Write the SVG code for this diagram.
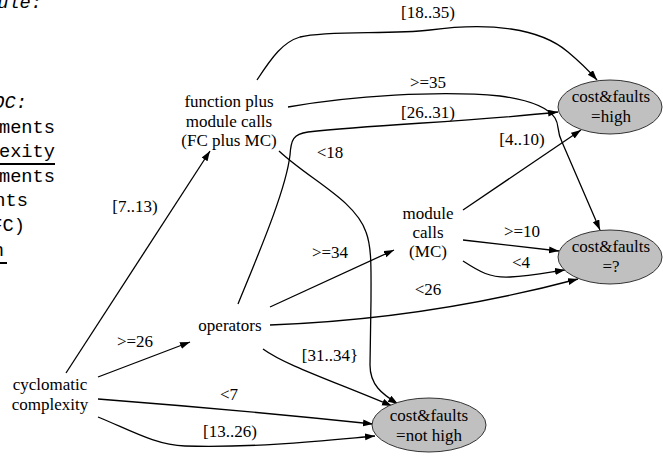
<svg xmlns="http://www.w3.org/2000/svg" width="663" height="456" viewBox="0 0 663 456">
<defs>
<marker id="ah" markerUnits="userSpaceOnUse" markerWidth="11" markerHeight="8" refX="10" refY="3.5" orient="auto">
<path d="M0,0 L10,3.5 L0,7 z" fill="#000"/>
</marker>
<style>
.code{font-family:"Liberation Mono",monospace;font-size:18.7px;fill:#000}
.it{font-style:italic}
.n{font-family:"Liberation Serif",serif;font-size:17px;fill:#000;text-anchor:middle}
.lb{font-family:"Liberation Serif",serif;font-size:17px;fill:#000;text-anchor:middle}
.e{stroke:#000;stroke-width:1.3;fill:none;marker-end:url(#ah)}
.ov{fill:#c0c0c0;stroke:#333;stroke-width:1}
</style>
</defs>
<rect width="663" height="456" fill="#fff"/>
<g id="listing" class="code" text-anchor="end">
<text x="42" y="8" class="it">ule:</text>
<text x="27" y="108" class="it">OC:</text>
<text x="55" y="133">ments</text>
<text x="55" y="157">exity</text>
<line x1="0" y1="164" x2="55" y2="164" stroke="#000" stroke-width="2"/>
<text x="55" y="182">ments</text>
<text x="28" y="206">nts</text>
<text x="25" y="231">FC)</text>
<text x="4" y="256">n</text>
<line x1="0" y1="263" x2="7" y2="263" stroke="#000" stroke-width="2"/>
</g>
<g id="connectors">
<path class="e" d="M66,373 L210,151"/>
<path class="e" d="M98,377 L190,342"/>
<path class="e" d="M98,399 Q240,410 373,424"/>
<path class="e" d="M98,417 C130,430 155,445 185,446 C260,448 330,440 375,436"/>
<path class="e" d="M238,304 C258,255 286,190 290,155 C291,140 293,134 308,132 C380,124 470,122 558,112"/>
<path class="e" d="M257,80 C272,57 283,42 300,37 C330,30 390,35 430,30 C490,22 540,28 568,52 C580,62 590,72 597,80"/>
<path class="e" d="M288,107 C350,96 440,90 500,96 C530,100 548,108 555,118 C560,126 556,130 562,142 L600,230"/>
<path class="e" d="M279,151 C310,180 355,200 366,232 C372,248 371,270 371,300 L370,365 C370,385 382,394 398,404"/>
<path class="e" d="M270,307 L394,250"/>
<path class="e" d="M270,325 C380,321 480,305 578,279"/>
<path class="e" d="M263,349 C285,365 330,380 392,406"/>
<path class="e" d="M463,210 L581,130"/>
<path class="e" d="M463,240 L559,251"/>
<path class="e" d="M463,261 C480,272 490,278 510,277 C530,276 545,273 565,270"/>
<g id="edge-labels" class="lb">
<text x="428" y="18">[18..35)</text>
<text x="428" y="88">&gt;=35</text>
<text x="428" y="118">[26..31)</text>
<text x="330" y="158">&lt;18</text>
<text x="135" y="212">[7..13)</text>
<text x="522" y="145">[4..10)</text>
<text x="330" y="258">&gt;=34</text>
<text x="522" y="237">&gt;=10</text>
<text x="521" y="268">&lt;4</text>
<text x="428" y="295">&lt;26</text>
<text x="135" y="347">&gt;=26</text>
<text x="330" y="361">[31..34}</text>
<text x="229" y="400">&lt;7</text>
<text x="230" y="437">[13..26)</text>
</g>
</g>
<g id="fc_plus_mc" class="n">
<text x="229" y="107">function plus</text>
<text x="229" y="127">module calls</text>
<text x="229" y="146">(FC plus MC)</text>
</g>
<g id="mc" class="n">
<text x="428" y="219">module</text>
<text x="428" y="238">calls</text>
<text x="428" y="257">(MC)</text>
</g>
<g id="operators" class="n">
<text x="230" y="331">operators</text>
</g>
<g id="cyclomatic" class="n">
<text x="50" y="390">cyclomatic</text>
<text x="50" y="410">complexity</text>
</g>
<g id="high">
<ellipse class="ov" cx="610" cy="107" rx="52" ry="27"/>
<text class="n" x="611" y="102">cost&amp;faults</text>
<text class="n" x="611" y="122">=high</text>
</g>
<g id="unknown">
<ellipse class="ov" cx="610" cy="257" rx="52" ry="27"/>
<text class="n" x="611" y="252">cost&amp;faults</text>
<text class="n" x="611" y="272">=?</text>
</g>
<g id="nothigh">
<ellipse class="ov" cx="429" cy="425" rx="57" ry="27"/>
<text class="n" x="429" y="421">cost&amp;faults</text>
<text class="n" x="429" y="441">=not high</text>
</g>
</svg>
